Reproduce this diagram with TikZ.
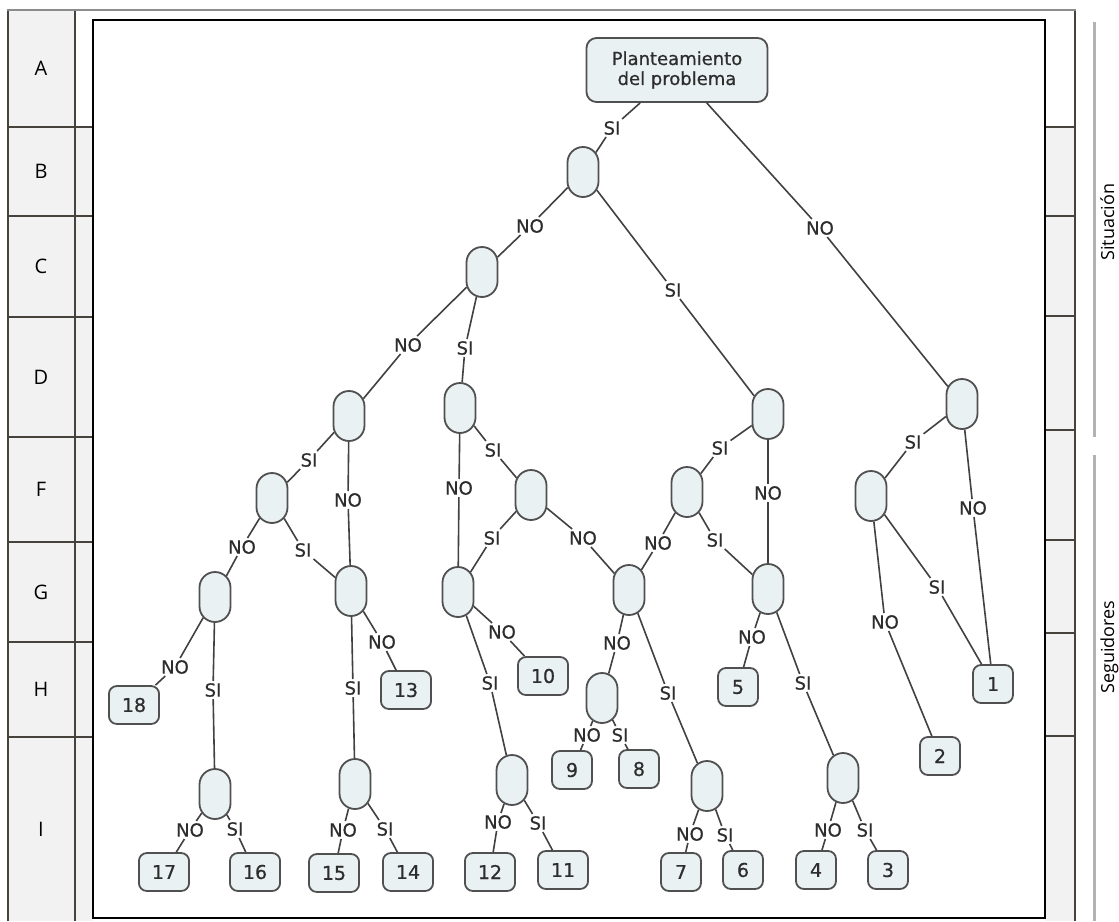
\documentclass[tikz,border=0pt]{standalone}
\usepackage{fontspec}
\usetikzlibrary{shapes.misc}
\newfontfamily\treefont[FakeBold=0.6]{DejaVu Sans}
\newfontfamily\framefont{Open Sans}
\definecolor{framec}{RGB}{72,66,60}
\definecolor{topgray}{RGB}{140,140,140}
\definecolor{sidegray}{RGB}{178,178,178}
\definecolor{cellc}{RGB}{242,242,242}
\definecolor{nodefill}{RGB}{233,241,242}
\definecolor{nodeborder}{RGB}{80,80,80}
\definecolor{edgec}{RGB}{65,65,65}
\definecolor{textc}{RGB}{45,45,45}
\begin{document}
\begin{tikzpicture}[x=1pt,y=-1pt,
  pill/.style={rounded rectangle, rotate=90, draw=nodeborder, fill=nodefill, line width=1.8pt, minimum width=50pt, minimum height=31pt, inner sep=0pt},
  leaf/.style={rectangle, rounded corners=8pt, draw=nodeborder, fill=nodefill, line width=1.8pt, minimum width=40pt, minimum height=38pt, inner xsep=13pt, inner ysep=0pt, font=\treefont\fontsize{19}{19}\selectfont, text=textc},
  rootbox/.style={rectangle, rounded corners=10pt, draw=nodeborder, fill=nodefill, line width=1.8pt, minimum width=181pt, minimum height=64pt, align=center, font=\treefont\fontsize{18}{20}\selectfont, text=textc},
  lbl/.style={inner sep=2pt, font=\treefont\fontsize{18}{18}\selectfont, text=textc},
  edge/.style={draw=edgec, line width=1.6pt},
  letter/.style={font=\framefont\fontsize{20}{20}\selectfont, text=black},
  sidelabel/.style={font=\framefont\fontsize{18}{18}\selectfont, text=black, rotate=90, anchor=base, inner sep=0pt},
  frameline/.style={draw=framec, line width=2pt}
]
\useasboundingbox (0,0) rectangle (1119,921);
% frame
\fill[cellc] (8,10) rectangle (75,921);
\fill[cellc] (75,127) rectangle (93,921);
\fill[cellc] (1045,127) rectangle (1075,921);
\foreach \y in {127,216,317,437,542,642,737} \draw[frameline] (8,\y) -- (93,\y);
\foreach \y in {127,216,316,430,540,633,736} \draw[frameline] (1045,\y) -- (1075,\y);
\draw[frameline] (8,10) -- (8,921);
\draw[frameline] (75,10) -- (75,921);
\draw[frameline] (1075,10) -- (1075,921);
\draw[topgray, line width=2pt] (7,10) -- (1076,10);
\draw[black, line width=2pt, fill=white] (93,20) rectangle (1045,918);
\draw[sidegray, line width=3pt] (1094,22) -- (1094,437);
\draw[sidegray, line width=3pt] (1094,455) -- (1094,921);
\foreach \l/\y in {A/68.5,B/171.5,C/266.5,D/377,F/489.5,G/592,H/689.5,I/829}
  \node[letter] (row\l) at (41,\y) {\l};
\node[sidelabel] (sit) at (1114,222) {Situación};
\node[sidelabel] (seg) at (1114,647) {Seguidores};
% tree nodes
\node[rootbox] (R) at (677,70) {Planteamiento\\del problema};
\foreach \n/\x/\y in {p1/583/172, pR/962/404, p2/482/272, p3/768/414, p4/349/416, p5/460/408,
  p6/272/498, p7/351/591, p8/215/597, p9/215/794, p10/355/784, p11/458/592, p12/531/495,
  p13/629/590, p14/512/780, p15/602/698, p16/707/786, p17/687/492, p18/768/589, p19/843/778, p20/871/496}
  \node[pill] (\n) at (\x,\y) {};
\foreach \n/\x/\y/\t in {L1/993/684/1, L2/940/756/2, L3/888/870/3, L4/816/870/4, L5/738/687/5,
  L6/743/870/6, L7/681/872/7, L8/639/769/8, L9/572/770/9, L10/543/676/10, L11/563/870/11,
  L12/490/872/12, L13/406/690/13, L14/408/872/14, L15/334/873/15, L16/255/872/16,
  L17/164/872/17, L18/134/705/18}
  \node[leaf] (\n) at (\x,\y) {\t};
% edge labels
\foreach \n/\x/\y/\t in {e1/612/128/SI, e2/820/228/NO, e3/530/226/NO, e4/673/290/SI,
  e5/408/345/NO, e6/465/348/SI, e7/309/460/SI, e8/348/500/NO, e9/242/547/NO, e10/303/550/SI,
  e11/175/667/NO, e12/213/690/SI, e13/382/642/NO, e14/353/688/SI, e15/190/830/NO, e16/235/829/SI,
  e17/343/830/NO, e18/385/829/SI, e19/493/450/SI, e20/459/488/NO, e21/492/538/SI, e22/583/538/NO,
  e23/502/632/NO, e24/490/683/SI, e25/617/643/NO, e26/668/693/SI, e27/587/735/NO, e28/620/735/SI,
  e29/498/822/NO, e30/538/823/SI, e31/690/834/NO, e32/725/835/SI, e33/720/448/SI, e34/768/493/NO,
  e35/658/543/NO, e36/715/540/SI, e37/752/637/NO, e38/803/683/SI, e39/828/830/NO, e40/865/830/SI,
  e41/913/442/SI, e42/973/508/NO, e43/937/587/SI, e44/885/622/NO}
  \node[lbl] (\n) at (\x,\y) {\t};
% connectors
\foreach \a/\e/\b in {R/e1/p1, R/e2/pR, p1/e3/p2, p1/e4/p3, p2/e5/p4, p2/e6/p5, p4/e7/p6, p4/e8/p7,
  p6/e9/p8, p6/e10/p7, p8/e11/L18, p8/e12/p9, p7/e13/L13, p7/e14/p10, p9/e15/L17, p9/e16/L16,
  p10/e17/L15, p10/e18/L14, p5/e19/p12, p5/e20/p11, p12/e21/p11, p12/e22/p13, p11/e23/L10,
  p11/e24/p14, p13/e25/p15, p13/e26/p16, p15/e27/L9, p15/e28/L8, p14/e29/L12, p14/e30/L11,
  p16/e31/L7, p16/e32/L6, p3/e33/p17, p3/e34/p18, p17/e35/p13, p17/e36/p18, p18/e37/L5,
  p18/e38/p19, p19/e39/L4, p19/e40/L3, pR/e41/p20, pR/e42/L1, p20/e43/L1, p20/e44/L2}
  \draw[edge] (\a) -- (\e) -- (\b);
\end{tikzpicture}
\end{document}
